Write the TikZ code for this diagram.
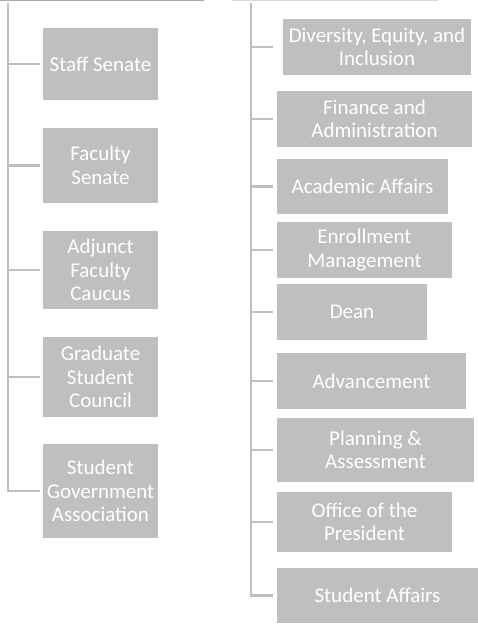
\documentclass[tikz,border=0pt]{standalone}
\usepackage{fontspec}
\setmainfont{Carlito}
\definecolor{boxgray}{HTML}{BFBFBF}
\definecolor{linegray}{HTML}{BFBFBF}
\definecolor{topdark}{HTML}{A6A6A6}
\definecolor{toplight}{HTML}{D9D9D9}
\begin{document}
\begin{tikzpicture}[x=1pt,y=-1pt,
  orgbox/.style={fill=boxgray, text=white, inner sep=0pt, align=center,
    font=\fontsize{21}{23.5}\selectfont},
  trunk/.style={draw=linegray, line width=2.6pt},
  branch/.style={draw=linegray, line width=2.2pt}]
\useasboundingbox (0,0) rectangle (478,624);

% top lines
\coordinate (tl1) at (0,0.6);
\coordinate (tl2) at (204,0.6);
\coordinate (tr1) at (232,0.6);
\coordinate (tr2) at (438,0.6);
\draw[topdark, line width=1.2pt] (tl1) -- (tl2);
\draw[toplight, line width=1.2pt] (tr1) -- (tr2);

% left boxes
\node[orgbox, minimum width=115, minimum height=72] (staff) at (100.5,64) {Staff Senate};
\node[orgbox, minimum width=115, minimum height=75] (faculty) at (100.5,165.5) {Faculty\\Senate};
\node[orgbox, minimum width=115, minimum height=78] (adjunct) at (100.5,270) {Adjunct\\Faculty\\Caucus};
\node[orgbox, minimum width=115, minimum height=80] (grad) at (100.5,377) {Graduate\\Student\\Council};
\node[orgbox, minimum width=115, minimum height=94] (sga) at (100.5,491) {Student\\Government\\Association};

% right boxes
\node[orgbox, minimum width=188, minimum height=56] (dei) at (377,47) {Diversity, Equity, and\\Inclusion};
\node[orgbox, minimum width=195, minimum height=56] (fin) at (374.5,119) {Finance and\\Administration};
\node[orgbox, minimum width=171, minimum height=55] (acad) at (362.5,186.5) {Academic Affairs};
\node[orgbox, minimum width=175, minimum height=56] (enr) at (364.5,250) {Enrollment\\Management};
\node[orgbox, minimum width=150, minimum height=56] (dean) at (352,312) {Dean};
\node[orgbox, minimum width=189, minimum height=56] (adv) at (371.5,381) {Advancement};
\node[orgbox, minimum width=197, minimum height=64] (plan) at (375.5,450) {Planning \&\\Assessment};
\node[orgbox, minimum width=175, minimum height=60] (office) at (364.5,522) {Office of the\\President};
\node[orgbox, minimum width=201, minimum height=55] (sa) at (377.5,595.5) {Student Affairs};

% left trunk
\coordinate (ltop) at (8,3);
\draw[trunk] (ltop) -- (ltop |- sga.west) -- ([xshift=-3pt]sga.west);
\foreach \b in {staff,faculty,adjunct,grad}
  \draw[branch] (ltop |- \b.west) -- ([xshift=-3pt]\b.west);

% right trunk
\coordinate (rtop) at (251,3);
\draw[trunk] (rtop) -- (rtop |- sa.west) -- ([xshift=-4pt]sa.west);
\draw[branch] (rtop |- dei.west) -- ([xshift=-10pt]dei.west);
\foreach \b in {fin,acad,enr,dean,adv,plan,office}
  \draw[branch] (rtop |- \b.west) -- ([xshift=-4pt]\b.west);
\end{tikzpicture}
\end{document}
